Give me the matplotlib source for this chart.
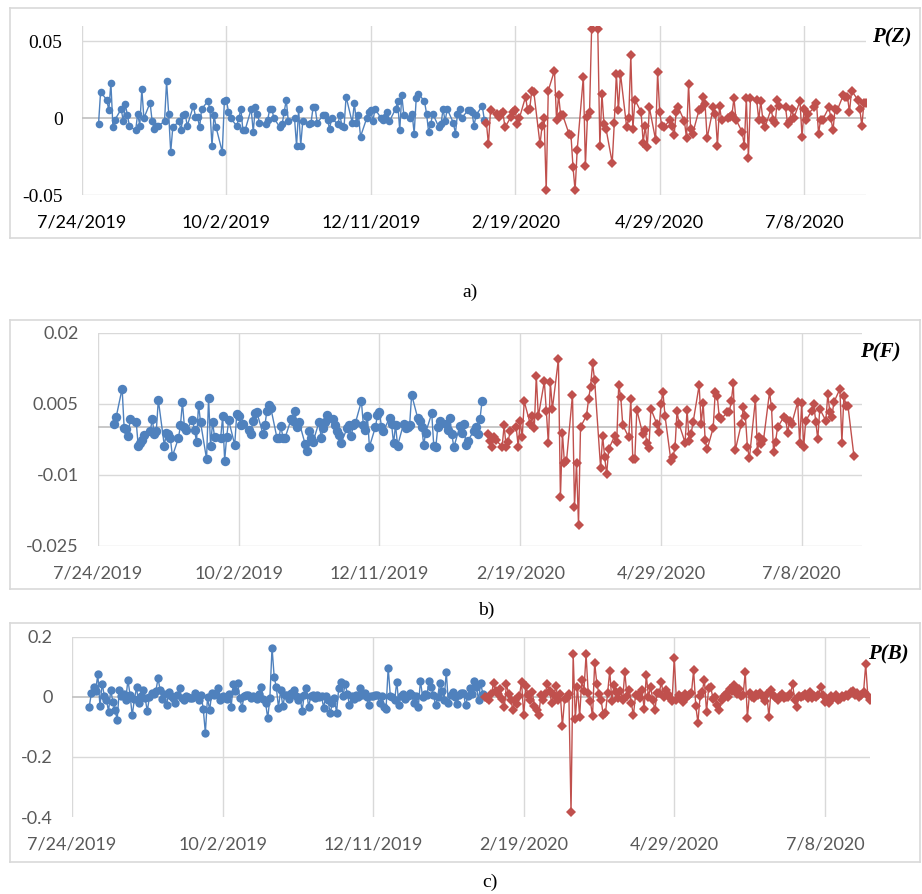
import matplotlib
matplotlib.use("Agg")
import matplotlib.pyplot as plt
import pandas as pd
from matplotlib.lines import Line2D

# date ticks shared by the three panels
tick_dates = pd.to_datetime(["2019-07-24", "2019-10-02", "2019-12-11",
                             "2020-02-19", "2020-04-29", "2020-07-08"])
tick_labels = ["7/24/2019", "10/2/2019", "12/11/2019", "2/19/2020", "4/29/2020", "7/8/2020"]

# a) P(Z), trading days
z_blue = [-0.004, 0.017, 0.012, 0.005, 0.023, -0.006, -0.001, 0.006, -0.002, 0.009,
          0.002, -0.005, -0.008, 0.003, -0.005, 0.019, 0.0, 0.010, -0.002, -0.007,
          -0.005, -0.005, -0.002, 0.024, 0.003, -0.022, -0.006, -0.002, -0.008, 0.002,
          0.003, -0.005, 0.008, 0.001, 0.001, -0.006, 0.006, 0.011, 0.006, -0.018,
          0.002, -0.006, -0.022, 0.011, 0.012, 0.004, 0.0, -0.005, 0.0, 0.006,
          -0.008, -0.008, 0.006, -0.009, 0.007, 0.003, -0.003, -0.004, -0.001, 0.006,
          0.006, 0.0, -0.006, -0.004, 0.004, 0.012, -0.002, 0.0, -0.018, 0.006,
          -0.018, -0.002, -0.004, -0.003, 0.007, 0.007, -0.003, 0.002, 0.002, -0.001,
          -0.007, 0.0, -0.004, 0.002, -0.005, -0.006, 0.014, -0.003, 0.010, -0.003,
          0.002, -0.012, 0.0, 0.004, 0.005, -0.002, 0.006, 0.0, -0.001, 0.001,
          0.004, -0.002, 0.006, 0.011, -0.008, 0.015, 0.002, 0.0, 0.003, -0.010,
          0.013, 0.016, 0.011, 0.003, -0.009, -0.004, 0.003, -0.006, -0.004, 0.006,
          -0.002, 0.006, -0.003, -0.010, 0.003, 0.006, 0.0, 0.005, 0.005, 0.004,
          -0.005, 0.002, 0.008, -0.001]
z_red = [-0.003, -0.017, 0.005, 0.003, 0.001, 0.003, 0.004, -0.006, 0.001, 0.004,
         0.005, -0.004, 0.0, 0.014, 0.005, 0.006, 0.018, 0.017, -0.017, -0.005,
         0.0, -0.047, 0.018, 0.031, -0.001, 0.015, 0.002, 0.002, -0.010, -0.011,
         -0.032, -0.047, -0.021, 0.027, -0.031, 0.001, 0.004, 0.058, 0.058, -0.018,
         0.016, -0.004, -0.007, -0.029, -0.003, 0.029, 0.005, 0.029, -0.006, 0.0,
         0.041, -0.007, 0.012, 0.004, -0.016, -0.005, -0.019, 0.007, -0.014, 0.030,
         0.004, -0.005, -0.006, -0.001, -0.005, -0.011, 0.004, 0.007, -0.002, -0.013,
         0.022, -0.007, -0.010, 0.005, 0.006, 0.014, 0.009, -0.013, 0.007, 0.003,
         -0.018, 0.008, -0.001, 0.0, 0.001, 0.002, 0.013, -0.001, -0.009, -0.018,
         0.013, -0.026, 0.013, 0.012, -0.001, 0.011, -0.001, -0.006, 0.006, -0.001,
         -0.003, 0.012, 0.008, 0.007, -0.004, -0.002, 0.006, 0.0, 0.011, -0.012,
         0.006, -0.001, 0.003, 0.007, 0.010, -0.010, -0.001, -0.001, 0.007, 0.0,
         -0.008, 0.006, 0.005, 0.015, 0.014, 0.014, 0.004, 0.018, 0.012, 0.006,
         -0.005, 0.010, 0.010]

# b) P(F), trading days
f_blue = [0.0007, 0.0021, 0.0082, -0.0001, -0.0004, -0.0018, 0.0017, 0.0012, -0.0039, -0.0033,
          -0.0027, -0.0017, -0.0008, 0.0018, -0.0015, -0.0007, 0.0058, -0.0039, -0.0011, -0.0013,
          -0.0023, -0.0061, -0.0023, 0.0004, 0.0053, 0.0, -0.0006, 0.0016, -0.0006, -0.0030,
          0.0048, 0.0011, -0.0067, 0.0063, -0.0040, 0.0011, -0.0021, -0.0023, 0.0023, -0.0070,
          -0.0020, 0.0015, -0.0037, 0.0028, 0.0023, 0.0005, 0.0008, -0.0006, -0.0014, 0.0013,
          0.0030, 0.0032, -0.0013, 0.0004, 0.0035, 0.0048, 0.0040, -0.0022, -0.0023, 0.0003,
          -0.0023, -0.0023, 0.0017, 0.0014, 0.0034, 0.0, 0.0012, -0.0035, -0.0049, -0.0008,
          -0.0023, -0.0030, 0.0012, -0.0023, -0.0001, 0.0012, 0.0026, 0.0018, 0.0004, -0.0007,
          -0.0016, -0.0032, -0.0001, 0.0005, -0.0019, 0.0006, 0.0009, 0.0055, 0.0005, -0.0006,
          0.0023, -0.0041, 0.0001, 0.0026, 0.0032, 0.0001, -0.0008, 0.0020, 0.0008, -0.0034,
          0.0005, -0.0039, 0.0008, -0.0001, 0.0, 0.0005, 0.0069, 0.0020, 0.0013, 0.0001,
          -0.0037, -0.0011, 0.0030, -0.0039, -0.0042, 0.0, 0.0014, 0.0008, -0.0006, 0.0020,
          -0.0015, -0.0042, 0.0003, -0.0011, 0.0008, -0.0037, -0.0028, -0.0007, 0.0, -0.0013,
          0.0018, 0.0055]
f_red = [-0.0015, -0.0028, -0.0041, -0.0021, -0.0027, -0.0041, 0.0004, -0.0041, -0.0030, -0.0008,
         0.0001, -0.0041, 0.0013, -0.0021, 0.0055, 0.0007, 0.0023, -0.0001, 0.0109, 0.0023,
         0.0097, 0.0034, -0.0034, 0.0095, 0.0039, 0.0144, -0.0148, -0.0011, -0.0076, -0.0072,
         0.0069, -0.0168, -0.0076, -0.0206, 0.0001, 0.0025, 0.0060, 0.0086, 0.0135, 0.0100,
         -0.0086, -0.0018, -0.0062, -0.0099, -0.0046, -0.0018, -0.0030, 0.0089, 0.0065, 0.0005,
         -0.0021, 0.0060, -0.0067, -0.0067, 0.0037, -0.0015, -0.0006, -0.0032, -0.0044, 0.0039,
         0.0007, -0.0009, 0.0049, 0.0075, 0.0025, -0.0072, -0.0063, -0.0042, 0.0035, 0.0007,
         -0.0032, 0.0037, -0.0028, -0.0013, 0.0011, 0.0089, 0.0007, 0.0051, -0.0027, -0.0046,
         -0.0001, 0.0075, 0.0067, 0.0021, 0.0018, 0.0032, 0.0032, 0.0056, 0.0093, -0.0048,
         0.0008, 0.0042, 0.0023, -0.0041, -0.0065, 0.0060, -0.0053, -0.0021, -0.0035, -0.0027,
         0.0074, 0.0042, -0.0051, -0.0030, 0.0, 0.0021, 0.0018, -0.0011, 0.0014, 0.0007,
         0.0053, -0.0034, 0.0051, -0.0042, 0.0014, 0.0035, 0.0049, 0.0011, -0.0025, 0.0039,
         0.0014, 0.0070, 0.0032, 0.0021, 0.0053, 0.0081, -0.0032, 0.0067, 0.0046, 0.0046,
         -0.0061]

# c) P(B), calendar days
b_blue = [-0.033, 0.011, 0.031, 0.020, 0.075, -0.031, 0.044, 0.004, -0.010, -0.049,
          0.024, -0.017, -0.044, -0.077, 0.024, 0.002, 0.008, -0.010, 0.057, 0.005,
          -0.062, -0.008, 0.031, -0.022, 0.002, 0.022, -0.005, -0.047, -0.002, 0.011,
          0.010, 0.020, 0.061, 0.022, -0.006, 0.008, -0.028, 0.017, 0.003, -0.004,
          -0.020, 0.005, 0.028, -0.004, -0.011, 0.002, 0.0, -0.005, -0.003, 0.011,
          0.004, -0.011, 0.006, -0.039, -0.120, -0.002, -0.044, 0.013, 0.005, 0.010,
          0.028, -0.011, 0.004, -0.003, -0.006, 0.008, -0.033, 0.042, 0.018, 0.046,
          -0.005, -0.036, 0.002, 0.007, 0.006, -0.003, 0.004, 0.0, -0.008, 0.010,
          0.033, -0.006, -0.020, -0.072, -0.003, 0.164, 0.066, 0.031, -0.036, 0.022,
          -0.031, 0.006, 0.005, -0.008, 0.012, 0.022, 0.004, -0.011, 0.0, -0.046,
          0.007, 0.028, -0.035, 0.002, 0.005, -0.003, 0.006, -0.001, 0.002, -0.036,
          0.003, -0.010, -0.055, -0.022, -0.005, -0.053, 0.028, 0.050, 0.003, 0.044,
          0.010, -0.027, 0.004, -0.006, 0.005, 0.0, 0.028, 0.006, 0.011, -0.002,
          -0.028, 0.003, 0.001, 0.006, 0.005, -0.020, 0.004, -0.033, -0.040, 0.097,
          0.002, 0.0, -0.010, 0.050, -0.028, 0.004, 0.008, -0.006, 0.002, 0.011,
          0.006, -0.022, 0.003, -0.033, 0.053, 0.0, 0.008, 0.005, 0.053, 0.033,
          0.007, -0.028, 0.0, 0.046, 0.020, -0.010, 0.083, -0.022, 0.005, 0.017,
          0.0, -0.024, 0.006, 0.012, 0.011, -0.028, 0.002, 0.028, 0.009, 0.053,
          0.033, -0.010, 0.045, 0.010]
b_red = [0.0, -0.005, -0.012, 0.010, 0.046, 0.020, 0.010, 0.027, -0.008, -0.033,
         0.042, 0.008, -0.010, -0.044, -0.012, -0.025, 0.002, 0.050, -0.061, 0.035,
         0.006, -0.010, 0.015, -0.030, -0.044, -0.061, 0.005, -0.012, 0.010, 0.044,
         0.020, -0.020, 0.005, 0.035, -0.012, 0.010, -0.097, -0.008, -0.005, 0.009,
         -0.385, 0.141, -0.075, 0.033, -0.066, 0.055, 0.020, 0.141, 0.011, -0.015,
         -0.064, 0.113, 0.044, 0.010, -0.011, -0.061, -0.055, 0.012, 0.086, -0.015,
         0.039, 0.016, -0.005, 0.020, -0.010, 0.083, 0.004, 0.022, -0.020, -0.061,
         0.005, 0.006, -0.005, 0.022, -0.039, 0.072, 0.0, 0.033, -0.010, -0.044,
         0.012, 0.011, 0.050, 0.0, 0.022, 0.010, -0.003, -0.014, 0.130, -0.011,
         0.005, 0.0, -0.017, 0.009, 0.0, 0.005, 0.014, 0.088, -0.030, -0.086,
         0.003, 0.017, 0.057, -0.050, 0.030, 0.031, -0.006, 0.0, -0.028, -0.044,
         -0.012, 0.004, 0.010, 0.0, 0.025, 0.020, 0.039, 0.010, 0.027, 0.003,
         0.005, 0.081, -0.069, 0.013, 0.0, -0.005, 0.010, 0.006, 0.012, 0.003,
         -0.015, 0.009, -0.066, 0.022, 0.005, 0.0, -0.010, 0.002, 0.008, -0.005,
         -0.002, 0.0, 0.010, 0.042, -0.010, -0.035, 0.003, 0.0, 0.002, 0.010,
         -0.005, 0.017, -0.004, 0.003, -0.002, 0.006, 0.031, 0.005, -0.018, -0.010,
         -0.022, 0.002, -0.004, 0.006, -0.010, -0.008, 0.004, 0.0, 0.007, 0.004,
         0.015, 0.019, 0.005, 0.011, 0.0, 0.006, 0.015, 0.108, 0.002, -0.011]

BLUE = "#4f81bd"
RED = "#c0504d"
GRID = "#d9d9d9"

z_bd = pd.bdate_range("2019-08-01", periods=len(z_blue))
z_rd = pd.bdate_range(z_bd[-1] + pd.offsets.BDay(1), periods=len(z_red))
f_bd = pd.bdate_range("2019-08-01", periods=len(f_blue))
f_rd = pd.bdate_range(f_bd[-1] + pd.offsets.BDay(1), periods=len(f_red))
b_bd = pd.date_range("2019-08-01", periods=len(b_blue))
b_rd = pd.date_range(b_bd[-1] + pd.Timedelta(days=1), periods=len(b_red))

W, H = 922, 894
fig = plt.figure(figsize=(W / 100, H / 100), dpi=100)


def box(l, t, r, b):
    return [l / W, 1 - b / H, (r - l) / W, (b - t) / H]


def frame(top, bottom):
    segs = [([10, 920], [top, top]), ([10, 920], [bottom, bottom]),
            ([10, 10], [top, bottom]), ([920, 920], [top, bottom])]
    for xs, ys in segs:
        fig.add_artist(Line2D([x / W for x in xs], [1 - y / H for y in ys],
                              color=GRID, lw=1.2, transform=fig.transFigure))


def panel(rect, blue_x, blue_y, red_x, red_y, ylim, yticks, ylabels, hgrid, xend,
          ms_b, ms_r, ytick_font, xtick_color, ytick_color):
    ax = fig.add_axes(box(*rect))
    for d in tick_dates:
        ax.axvline(d, color=GRID, lw=1.0, zorder=0)
    for v in hgrid:
        ax.axhline(v, color=GRID, lw=1.0, zorder=0)
    ax.axhline(0, color="#bfbfbf", lw=1.2, zorder=0)
    ax.plot(blue_x, blue_y, color=BLUE, lw=1.0, marker="o", ms=ms_b,
            markeredgewidth=0, zorder=3)
    ax.plot(red_x, red_y, color=RED, lw=1.0, marker="D", ms=ms_r,
            markeredgewidth=0, zorder=3)
    ax.set_xlim(tick_dates[0], xend)
    ax.set_ylim(*ylim)
    ax.set_xticks(tick_dates)
    ax.set_xticklabels(tick_labels, fontfamily="Lato", fontsize=13, color=xtick_color)
    ax.set_yticks(yticks)
    ax.set_yticklabels(ylabels, color=ytick_color, **ytick_font)
    ax.tick_params(length=0, pad=14)
    for s in ax.spines.values():
        s.set_visible(False)
    ax.patch.set_alpha(0)
    return ax


serif_lbl = {"fontfamily": "Liberation Serif", "fontsize": 14}
sans_lbl = {"fontfamily": "Lato", "fontsize": 13}
end_ab = tick_dates[0] + pd.Timedelta(days=380)

# a)
frame(8, 238)
panel((82, 26, 866, 195), z_bd, z_blue, z_rd, z_red, (-0.05, 0.06),
      [-0.05, 0, 0.05], ["-0.05", "0", "0.05"], [-0.05, 0.05], end_ab,
      5.5, 5.0, serif_lbl, "#000000", "#000000")
fig.text(892 / W, 1 - 37 / H, "P(Z)", fontfamily="Liberation Serif", fontsize=15,
         fontweight="bold", fontstyle="italic", ha="center", va="center")
fig.text(470 / W, 1 - 292 / H, "a)", fontfamily="Liberation Serif", fontsize=14,
         ha="center", va="center")

# b)
frame(320, 589)
panel((98, 332.7, 862, 545.7), f_bd, f_blue, f_rd, f_red, (-0.025, 0.02),
      [-0.025, -0.01, 0.005, 0.02], ["-0.025", "-0.01", "0.005", "0.02"],
      [-0.025, -0.01, 0.005, 0.02], end_ab, 6.8, 5.4, sans_lbl, "#595959", "#595959")
fig.text(880 / W, 1 - 352 / H, "P(F)", fontfamily="Liberation Serif", fontsize=15,
         fontweight="bold", fontstyle="italic", ha="center", va="center")
fig.text(486 / W, 1 - 610 / H, "b)", fontfamily="Liberation Serif", fontsize=14,
         ha="center", va="center")

# c)
frame(623, 862)
panel((72, 636.7, 870, 817), b_bd, b_blue, b_rd, b_red, (-0.4, 0.2),
      [-0.4, -0.2, 0, 0.2], ["-0.4", "-0.2", "0", "0.2"], [-0.2, 0.2],
      b_rd[-1], 6.0, 5.0, sans_lbl, "#595959", "#595959")
fig.text(888 / W, 1 - 654 / H, "P(B)", fontfamily="Liberation Serif", fontsize=15,
         fontweight="bold", fontstyle="italic", ha="center", va="center")
fig.text(490 / W, 1 - 882 / H, "c)", fontfamily="Liberation Serif", fontsize=14,
         ha="center", va="center")

fig.savefig("out.png", dpi=100)
